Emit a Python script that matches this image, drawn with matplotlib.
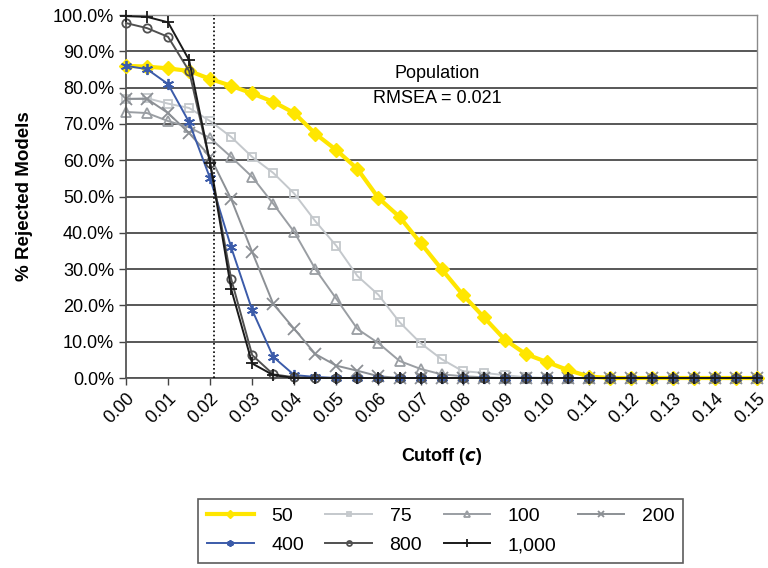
import numpy as np
import matplotlib
matplotlib.use("Agg")
import matplotlib.pyplot as plt
from matplotlib.ticker import FuncFormatter

plt.rcParams["font.family"] = ["Liberation Sans", "DejaVu Sans"]

# cutoff values 0.000 .. 0.150 in steps of 0.005
cutoff = np.round(np.arange(31) * 0.005, 3)
pop_rmsea = 0.021

# % rejected models per sample size
n50 = [86.0, 85.8, 85.3, 84.6, 82.4, 80.5, 78.4, 76.1, 73.0, 67.3, 62.8, 57.6,
       49.6, 44.4, 37.2, 30.0, 23.0, 16.8, 10.6, 6.6, 4.4, 2.2, 0.4, 0, 0, 0,
       0, 0, 0, 0, 0]
n75 = [76.9, 77.1, 75.6, 74.4, 70.8, 66.4, 60.9, 56.5, 50.8, 43.2, 36.4,
       28.1, 22.9, 15.4, 9.6, 5.2, 1.9, 1.4, 0.8, 0.2, 0, 0, 0, 0, 0, 0, 0,
       0, 0, 0, 0]
n100 = [73.3, 73.0, 70.8, 69.1, 66.1, 60.9, 55.4, 48.0, 40.2, 30.0, 21.8,
        13.5, 9.6, 4.7, 2.5, 1.0, 0.5, 0.2, 0, 0, 0, 0, 0, 0, 0, 0, 0, 0, 0,
        0, 0]
n200 = [76.9, 76.9, 73.0, 67.5, 61.0, 49.3, 34.7, 20.4, 13.5, 6.6, 3.4, 2.0,
        0.5, 0, 0, 0, 0, 0, 0, 0, 0, 0, 0, 0, 0, 0, 0, 0, 0, 0, 0]
n400 = [86.0, 85.1, 81.0, 70.5, 55.0, 36.0, 18.7, 5.8, 0.8, 0.3, 0, 0, 0, 0,
        0, 0, 0, 0, 0, 0, 0, 0, 0, 0, 0, 0, 0, 0, 0, 0, 0]
n800 = [97.8, 96.4, 94.0, 84.6, 59.3, 27.3, 6.3, 1.0, 0.2, 0, 0, 0, 0, 0, 0,
        0, 0, 0, 0, 0, 0, 0, 0, 0, 0, 0, 0, 0, 0, 0, 0]
n1000 = [99.7, 99.5, 98.0, 87.6, 59.2, 24.5, 4.0, 0.8, 0, 0, 0, 0, 0, 0, 0,
         0, 0, 0, 0, 0, 0, 0, 0, 0, 0, 0, 0, 0, 0, 0, 0]

asterisk = (6, 2, 0)
series = [
    ("50",    n50,   dict(color="#FFE600", lw=3.0, marker="D", ms=7, mfc="#FFE600", mec="#FFE600", zorder=4)),
    ("75",    n75,   dict(color="#C4C8CC", lw=1.4, marker="s", ms=6, mfc="none", mec="#C4C8CC", mew=1.3)),
    ("100",   n100,  dict(color="#9A9EA3", lw=1.4, marker="^", ms=7, mfc="none", mec="#9A9EA3", mew=1.3)),
    ("200",   n200,  dict(color="#8C9095", lw=1.4, marker="x", ms=8, mew=1.3)),
    ("400",   n400,  dict(color="#3B5BA9", lw=1.4, marker=asterisk, ms=8, mew=1.3, zorder=5)),
    ("800",   n800,  dict(color="#505050", lw=1.4, marker="o", ms=6, mfc="none", mec="#505050", mew=1.3, zorder=5)),
    ("1,000", n1000, dict(color="#1A1A1A", lw=1.4, marker="+", ms=9, mew=1.3, zorder=5)),
]

fig = plt.figure(figsize=(7.68, 5.68), dpi=100)
ax = fig.add_axes([0.164, 0.3345, 0.822, 0.639])

handles = {}
for name, vals, style in series:
    h, = ax.plot(cutoff, vals, label=name, clip_on=False, **style)
    handles[name] = h

ax.axvline(pop_rmsea, color="black", lw=1.2, ls=(0, (1, 1.5)), zorder=6)
ax.text(0.074, 80.5, "Population\nRMSEA = 0.021", ha="center", va="center",
        fontsize=13, linespacing=1.65)

ax.set_xlim(0, 0.15)
ax.set_ylim(0, 100)
ax.set_xticks(np.round(np.arange(0, 0.151, 0.01), 2))
ax.set_xticks(cutoff, minor=True)
ax.set_yticks(np.arange(0, 101, 10))
ax.yaxis.set_major_formatter(FuncFormatter(lambda v, p: f"{v:.1f}%"))
ax.xaxis.set_major_formatter(FuncFormatter(lambda v, p: f"{v:.2f}"))
for lab in ax.get_xticklabels():
    lab.set_rotation(45)
    lab.set_ha("right")
    lab.set_va("top")
    lab.set_rotation_mode("anchor")
ax.tick_params(axis="both", labelsize=13, color="#444444", length=5, width=1)
ax.tick_params(axis="x", which="minor", length=0)

ax.grid(True, axis="y", color="#4a4a4a", lw=1.3)
ax.set_axisbelow(True)
for side in ("left", "bottom"):
    ax.spines[side].set_color("#555555")
    ax.spines[side].set_linewidth(1.3)
for side in ("top", "right"):
    ax.spines[side].set_color("#8a8a8a")
    ax.spines[side].set_linewidth(1.0)

ax.set_ylabel("% Rejected Models", fontsize=13.5, fontweight="bold", labelpad=14)
ax.set_xlabel("Cutoff ($\\mathbfit{c}$)", fontsize=13, fontweight="bold", labelpad=14)

order = ["50", "400", "75", "800", "100", "1,000", "200"]
leg = fig.legend([handles[k] for k in order], order, ncol=4,
                 loc="center", bbox_to_anchor=(0.574, 0.0655),
                 fontsize=14, frameon=True, fancybox=False,
                 edgecolor="#333333", handlelength=2.4, markerscale=0.6,
                 columnspacing=1.1, borderpad=0.45, labelspacing=0.6,
                 handletextpad=0.9)
leg.get_frame().set_linewidth(1.2)

fig.savefig("out.png", dpi=100)
